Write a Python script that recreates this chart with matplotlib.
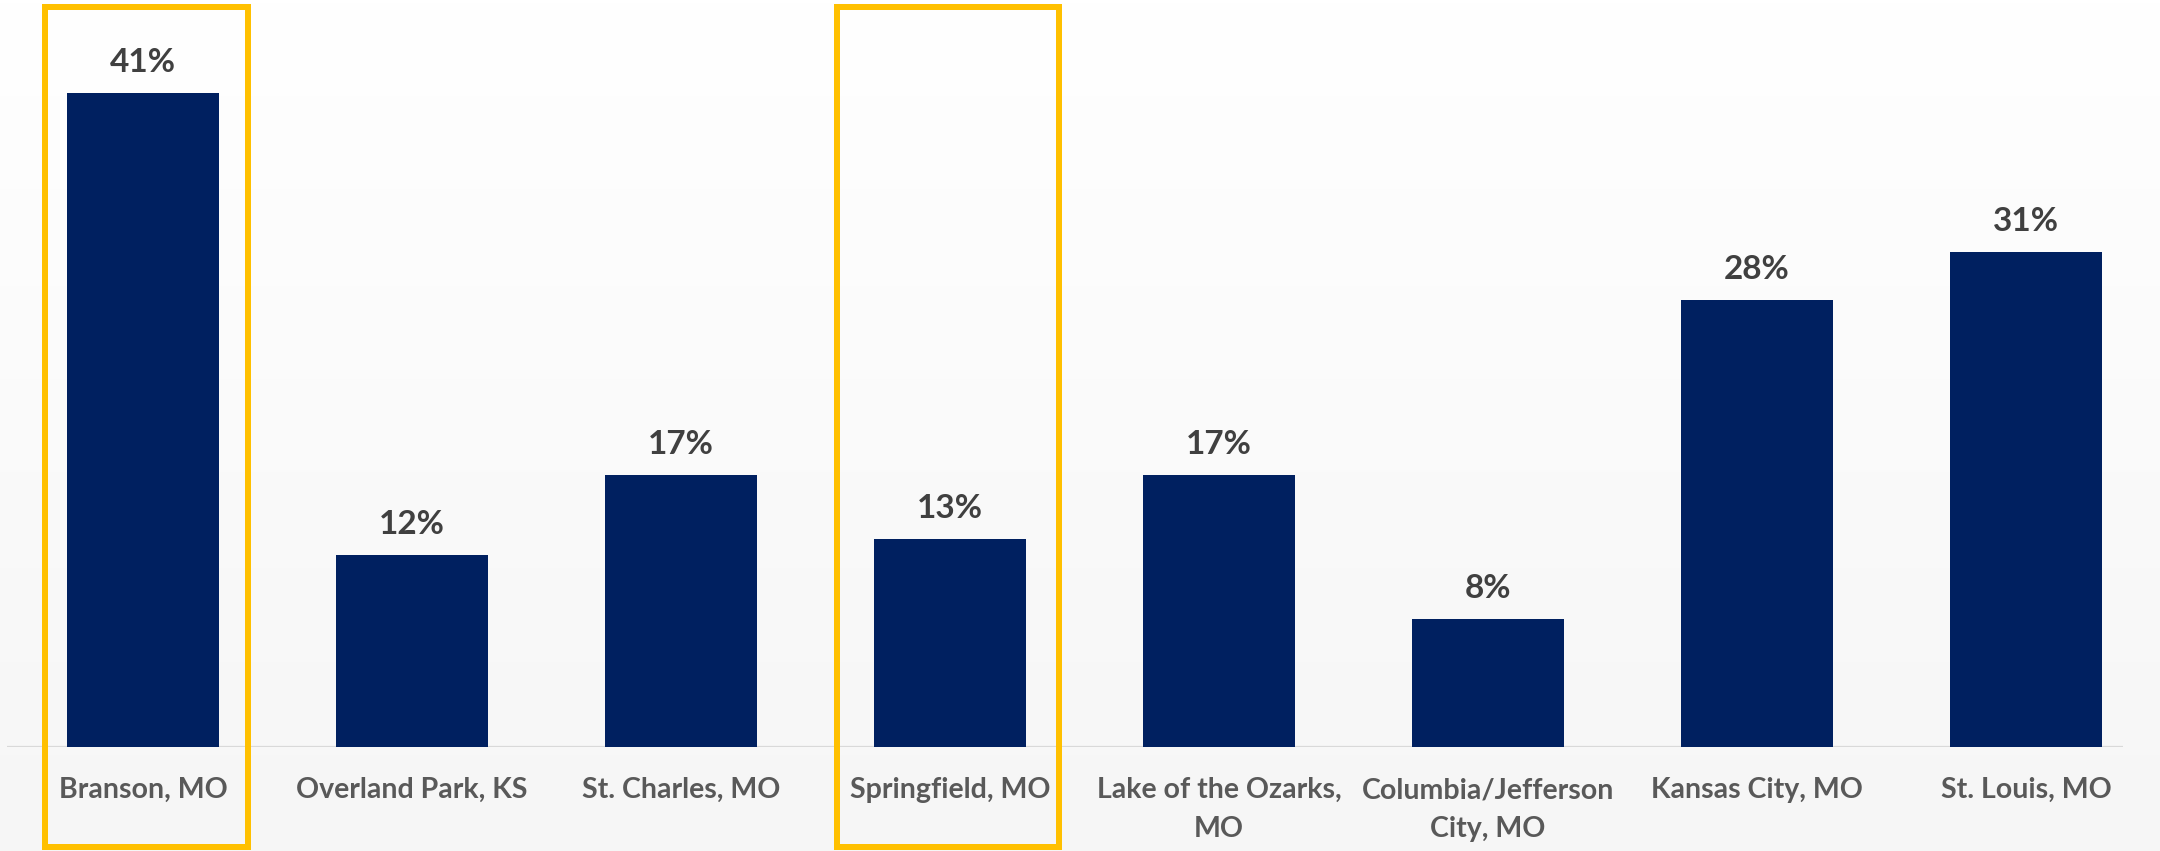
import numpy as np
import matplotlib
matplotlib.use("Agg")
import matplotlib.pyplot as plt
from matplotlib.patches import Rectangle
from matplotlib.transforms import blended_transform_factory
from matplotlib.colors import LinearSegmentedColormap

# Data
cities = [
    "Branson, MO",
    "Overland Park, KS",
    "St. Charles, MO",
    "Springfield, MO",
    "Lake of the Ozarks,\nMO",
    "Columbia/Jefferson\nCity, MO",
    "Kansas City, MO",
    "St. Louis, MO",
]
shares = [41, 12, 17, 13, 17, 8, 28, 31]
highlighted = ["Branson, MO", "Springfield, MO"]

# Figure setup
W, H, DPI = 2160, 851, 100
fig = plt.figure(figsize=(W / DPI, H / DPI), dpi=DPI)

# Soft vertical background gradient
bg = fig.add_axes([0, 0, 1, 1], zorder=-10)
grad = np.linspace(0, 1, 256).reshape(-1, 1)
cmap = LinearSegmentedColormap.from_list("bg", ["#FFFFFF", "#F6F6F6"])
bg.imshow(grad, aspect="auto", cmap=cmap, extent=[0, 1, 0, 1], origin="upper")
bg.axis("off")

FONT = "Lato"
base_px = 746.5
ax = fig.add_axes([0, (H - base_px) / H, 1, base_px / H])
ax.patch.set_alpha(0)
ax.set_xlim(-0.532, 7.498)
ax.set_ylim(0, 46.8)
for s in ax.spines.values():
    s.set_visible(False)
ax.set_xticks([])
ax.set_yticks([])

x = np.arange(len(cities))
ax.bar(x, shares, width=0.565, color="#002060", zorder=3)

# Baseline
ax.hlines(0, -0.505, 7.36, color="#D9D9D9", lw=1.6, zorder=2)

# Value labels
for xi, v in zip(x, shares):
    ax.annotate(f"{v}%", (xi, v), xytext=(0, 21), textcoords="offset pixels",
                ha="center", va="baseline", fontsize=24, fontweight="bold",
                color="#404040", family=FONT)

# Category labels, one text per line
trans = blended_transform_factory(ax.transData, fig.transFigure)
first_baseline_px = 798
line_pitch_px = 39
for xi, name in zip(x, cities):
    for k, line in enumerate(name.split("\n")):
        y = 1 - (first_baseline_px + k * line_pitch_px) / H
        ax.text(xi, y, line, transform=trans, ha="center", va="baseline",
                fontsize=20.5, fontweight="bold", color="#595959", family=FONT)

# Highlight frames around selected cities
frame_offsets = {"Branson, MO": (-0.365, 0.389), "Springfield, MO": (-0.420, 0.405)}
top_y = 1 - 7 / H
bot_y = 1 - 847 / H
for name in highlighted:
    i = cities.index(name)
    lo, hi = frame_offsets[name]
    rect = Rectangle((i + lo, bot_y), hi - lo, top_y - bot_y, transform=trans,
                     fill=False, edgecolor="#FFC000", lw=6 * 72 / DPI,
                     joinstyle="miter", clip_on=False, zorder=5)
    ax.add_patch(rect)

fig.savefig("out.png", dpi=DPI)
